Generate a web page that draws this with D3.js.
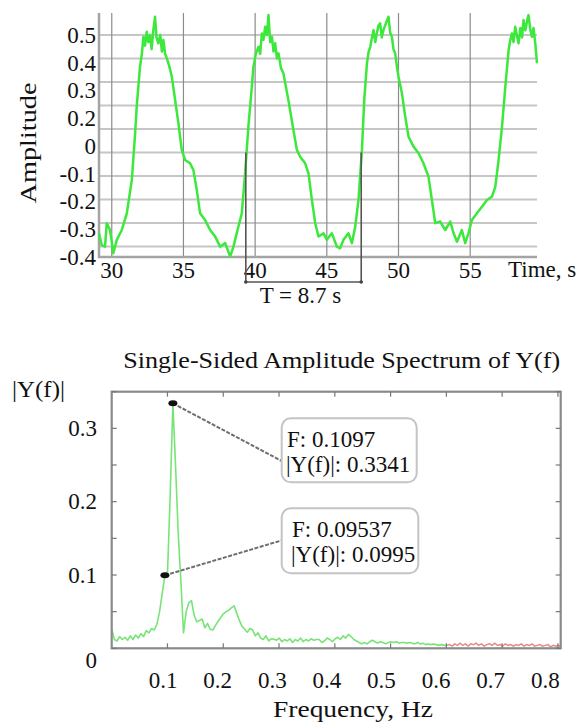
<!DOCTYPE html>
<html>
<head>
<meta charset="utf-8">
<script src="https://cdn.jsdelivr.net/npm/d3@7"></script>
<style>
body { margin: 0; background: #fff; }
svg { display: block; font-family: "Liberation Serif", "Times New Roman", serif; }
</style>
</head>
<body>
<div id="chart-area"></div>
<script>
// ---- time signal (top panel) ----
const sigTime = [29.11, 29.30, 29.53, 29.65, 29.88, 30.11, 30.35, 30.70, 31.05, 31.40,
	31.63, 31.74, 31.97, 32.10, 32.21, 32.32, 32.44, 32.55, 32.67, 32.78,
	32.90, 33.02, 33.12, 33.25, 33.38, 33.50, 33.60, 33.72, 33.84, 34.00,
	34.19, 34.42, 34.65, 34.88, 35.12, 35.46, 35.69, 35.93, 36.16, 36.51,
	36.86, 37.21, 37.56, 37.91, 38.26, 38.49, 38.83, 39.07, 39.30, 39.53,
	39.77, 39.88, 40.05, 40.23, 40.35, 40.47, 40.58, 40.70, 40.82, 40.93,
	41.05, 41.17, 41.28, 41.40, 41.52, 41.63, 41.80, 41.97, 42.32, 42.67,
	42.91, 43.14, 43.49, 43.72, 43.96, 44.19, 44.42, 44.77, 45.00, 45.35,
	45.70, 45.93, 46.16, 46.51, 46.75, 46.98, 47.21, 47.45, 47.61, 47.80,
	47.92, 48.03, 48.15, 48.26, 48.38, 48.49, 48.60, 48.72, 48.83, 48.95,
	49.12, 49.30, 49.42, 49.54, 49.65, 49.77, 49.90, 50.00, 50.24, 50.47,
	50.70, 51.05, 51.40, 51.74, 52.09, 52.33, 52.56, 52.91, 53.26, 53.61,
	53.84, 54.08, 54.42, 54.65, 54.88, 55.12, 55.47, 55.82, 56.17, 56.52,
	56.75, 56.98, 57.22, 57.45, 57.68, 57.80, 57.91, 58.02, 58.14, 58.25,
	58.37, 58.50, 58.62, 58.72, 58.85, 59.00, 59.07, 59.20, 59.31, 59.42,
	59.54, 59.66]
const sigAmp = [-0.344, -0.394, -0.401, -0.301, -0.330, -0.429, -0.372, -0.330, -0.259, -0.117,
	0.082, 0.195, 0.365, 0.42, 0.493, 0.455, 0.514, 0.47, 0.50, 0.44,
	0.521, 0.578, 0.49, 0.465, 0.50, 0.43, 0.479, 0.42, 0.401, 0.37,
	0.323, 0.223, 0.124, 0.011, -0.032, -0.046, -0.074, -0.160, -0.259, -0.287,
	-0.330, -0.358, -0.401, -0.386, -0.443, -0.401, -0.316, -0.259, -0.089, 0.110,
	0.280, 0.365, 0.42, 0.450, 0.42, 0.507, 0.48, 0.535, 0.50, 0.585,
	0.47, 0.493, 0.43, 0.465, 0.40, 0.422, 0.36, 0.337, 0.223, 0.096,
	0.011, -0.018, -0.046, -0.089, -0.202, -0.301, -0.358, -0.344, -0.372, -0.344,
	-0.401, -0.408, -0.372, -0.344, -0.386, -0.316, -0.202, 0.011, 0.223, 0.380,
	0.43, 0.450, 0.49, 0.521, 0.47, 0.507, 0.54, 0.550, 0.49, 0.521,
	0.55, 0.578, 0.51, 0.493, 0.44, 0.422, 0.36, 0.323, 0.252, 0.152,
	0.067, 0.025, -0.003, -0.046, -0.103, -0.202, -0.301, -0.294, -0.330, -0.294,
	-0.344, -0.380, -0.330, -0.386, -0.344, -0.287, -0.259, -0.231, -0.202, -0.188,
	-0.146, -0.032, 0.110, 0.280, 0.436, 0.48, 0.507, 0.47, 0.535, 0.50,
	0.465, 0.53, 0.49, 0.564, 0.52, 0.57, 0.585, 0.52, 0.493, 0.53,
	0.465, 0.380]
const timeTicks = [30, 35, 40, 45, 50, 55]
const ampGrid = [0.5, 0.4, 0.3, 0.2, 0.1, 0, -0.1, -0.2, -0.3, -0.4]
// the labels printed on the reference do not line up with the grid
const ampTickLabels = ["0.5", "0.4", "0.3", "0.2", "0", "-0.1", "-0.2", "-0.3", "-0.4"]
const periodMarks = [39.35, 47.40]
const periodLabel = "T = 8.7 s"

// ---- spectrum (bottom panel) ----
const specStep = 0.004769
const specAmp = [0.026, 0.012, 0.010, 0.016, 0.012, 0.015, 0.011, 0.017, 0.012, 0.018,
	0.014, 0.020, 0.016, 0.024, 0.021, 0.027, 0.025, 0.033, 0.050, 0.075,
	0.0995, 0.105, 0.21, 0.3341, 0.25, 0.157, 0.092, 0.021, 0.050, 0.062,
	0.065, 0.045, 0.036, 0.038, 0.040, 0.028, 0.034, 0.026, 0.025, 0.031,
	0.037, 0.042, 0.047, 0.050, 0.052, 0.055, 0.058, 0.048, 0.038, 0.030,
	0.026, 0.022, 0.027, 0.025, 0.017, 0.021, 0.014, 0.012, 0.017, 0.010,
	0.013, 0.0125, 0.011, 0.014, 0.009, 0.012, 0.010, 0.013, 0.008, 0.012,
	0.010, 0.014, 0.009, 0.012, 0.010, 0.013, 0.011, 0.012, 0.012, 0.008,
	0.010, 0.014, 0.012, 0.009, 0.013, 0.015, 0.012, 0.017, 0.014, 0.019,
	0.016, 0.012, 0.010, 0.008, 0.006, 0.008, 0.006, 0.009, 0.011, 0.009,
	0.007, 0.009, 0.008, 0.006, 0.008, 0.009, 0.008, 0.009, 0.007, 0.008,
	0.008, 0.007, 0.008, 0.007, 0.006, 0.008, 0.006, 0.007, 0.005, 0.006,
	0.005, 0.006, 0.005, 0.004, 0.005, 0.004, 0.004, 0.005, 0.003, 0.006,
	0.004, 0.007, 0.004, 0.006, 0.003, 0.006, 0.005, 0.007, 0.004, 0.006,
	0.003, 0.005, 0.006, 0.004, 0.007, 0.004, 0.005, 0.003, 0.006, 0.004,
	0.005, 0.003, 0.005, 0.004, 0.006, 0.003, 0.005, 0.004, 0.006, 0.003,
	0.004, 0.005, 0.003, 0.004, 0.005, 0.002, 0.004, 0.003, 0.004, 0.002]
const redFrom = 0.60
const freqTicks = [0.1, 0.2, 0.3, 0.4, 0.5, 0.6, 0.7, 0.8]
const specTicks = [0, 0.05, 0.1, 0.15, 0.2, 0.25, 0.3, 0.35]
const specTickLabels = [0, 0.1, 0.2, 0.3]
const tipFreq = [0.1097, 0.09537]
const tipAmp = [0.3341, 0.0995]

const WIDTH = 588
const HEIGHT = 723
const TOP = { LEFT: 99, RIGHT: 537, TOP: 13, BOTTOM: 257 }
const BOT = { LEFT: 111.7, RIGHT: 560.7, TOP: 391.7, BOTTOM: 648.3 }
const FONT = 23

const svg = d3.select("#chart-area").append("svg")
	.attr("width", WIDTH)
	.attr("height", HEIGHT)

// =============== top panel ===============
const x1 = d3.scaleLinear().domain([29.11, 59.66]).range([TOP.LEFT, TOP.RIGHT])
const y1 = d3.scaleLinear().domain([-0.445, 0.594]).range([TOP.BOTTOM, TOP.TOP])
const yLab = d3.scalePoint().domain(ampTickLabels).range([35, TOP.BOTTOM])

const topG = svg.append("g")

// horizontal grid
topG.selectAll(".hgrid").data(ampGrid).enter().append("line")
	.attr("x1", TOP.LEFT).attr("x2", TOP.RIGHT)
	.attr("y1", d => y1(d)).attr("y2", d => y1(d))
	.attr("stroke", "#c6c6c6").attr("stroke-width", 2)

// vertical grid
topG.selectAll(".vgrid").data(timeTicks).enter().append("line")
	.attr("x1", d => x1(d)).attr("x2", d => x1(d))
	.attr("y1", TOP.TOP).attr("y2", TOP.BOTTOM)
	.attr("stroke", "#8c8c8c").attr("stroke-width", 1.2)

// axis lines
topG.append("path")
	.attr("d", `M${TOP.LEFT},${TOP.TOP}V${TOP.BOTTOM}H${TOP.RIGHT}`)
	.attr("fill", "none").attr("stroke", "#a4a4a4").attr("stroke-width", 2.5)

// signal
const sig = sigTime.map((t, i) => ({ t: t, a: sigAmp[i] }))
topG.append("path")
	.datum(sig)
	.attr("fill", "none")
	.attr("stroke", "#3ce83c")
	.attr("stroke-width", 2.5)
	.attr("stroke-linejoin", "round")
	.attr("d", d3.line().x(d => x1(d.t)).y(d => y1(d.a)))

// Y labels
topG.selectAll(".ylab").data(ampTickLabels).enter().append("text")
	.attr("x", TOP.LEFT - 3)
	.attr("y", d => yLab(d))
	.attr("dy", "0.34em")
	.attr("text-anchor", "end")
	.attr("font-size", FONT)
	.attr("fill", "#111")
	.text(d => d)

// X labels
topG.selectAll(".xlab").data(timeTicks).enter().append("text")
	.attr("x", d => x1(d))
	.attr("y", 278)
	.attr("text-anchor", "middle")
	.attr("font-size", FONT)
	.attr("fill", "#111")
	.text(d => d)

topG.append("text")
	.attr("x", 508)
	.attr("y", 277)
	.attr("font-size", FONT)
	.attr("fill", "#111")
	.text("Time, s")

topG.append("text")
	.attr("transform", `translate(36, 143) rotate(-90)`)
	.attr("text-anchor", "middle")
	.attr("font-size", FONT)
	.attr("textLength", 121)
	.attr("lengthAdjust", "spacingAndGlyphs")
	.attr("fill", "#111")
	.text("Amplitude")

// period bracket
const bx0 = x1(periodMarks[0]), bx1 = x1(periodMarks[1]), by = 282
topG.append("path")
	.attr("d", `M${bx0},${y1(0)}V${by}H${bx1}V${y1(0)}`)
	.attr("fill", "none").attr("stroke", "#555").attr("stroke-width", 1.6)
topG.selectAll(".bdot").data(periodMarks).enter().append("circle")
	.attr("cx", d => x1(d)).attr("cy", by).attr("r", 1.8).attr("fill", "#444")
topG.append("text")
	.attr("x", (bx0 + bx1) / 2 - 3)
	.attr("y", 303)
	.attr("text-anchor", "middle")
	.attr("font-size", FONT)
	.attr("fill", "#111")
	.text(periodLabel)

// =============== bottom panel ===============
const x2 = d3.scaleLinear().domain([0, 0.805]).range([BOT.LEFT, BOT.RIGHT])
const y2 = d3.scaleLinear().domain([0, 0.35]).range([BOT.BOTTOM, BOT.TOP])
// tick labels in the reference sit slightly left of their ticks
const x2Lab = x2.copy().range([108.5, 548])

const botG = svg.append("g")

botG.append("text")
	.attr("x", 341.7)
	.attr("y", 368)
	.attr("text-anchor", "middle")
	.attr("font-size", FONT)
	.attr("textLength", 437)
	.attr("lengthAdjust", "spacingAndGlyphs")
	.attr("fill", "#111")
	.text("Single-Sided Amplitude Spectrum of Y(f)")

botG.append("text")
	.attr("x", 12)
	.attr("y", 397)
	.attr("font-size", FONT)
	.attr("textLength", 53)
	.attr("lengthAdjust", "spacingAndGlyphs")
	.attr("fill", "#111")
	.text("|Y(f)|")

// spectrum line, green then red
const spec = specAmp.map((a, i) => ({ f: i * specStep, a: a }))
const specLine = d3.line().x(d => x2(d.f)).y(d => y2(d.a))
botG.append("path")
	.datum(spec.filter(d => d.f <= redFrom + specStep))
	.attr("fill", "none").attr("stroke", "#78e478").attr("stroke-width", 1.6)
	.attr("stroke-linejoin", "round")
	.attr("d", specLine)
botG.append("path")
	.datum(spec.filter(d => d.f >= redFrom))
	.attr("fill", "none").attr("stroke", "#e48888").attr("stroke-width", 1.5)
	.attr("d", specLine)

// frame
botG.append("rect")
	.attr("x", BOT.LEFT).attr("y", BOT.TOP)
	.attr("width", BOT.RIGHT - BOT.LEFT).attr("height", BOT.BOTTOM - BOT.TOP)
	.attr("fill", "none").attr("stroke", "#8a8a8a").attr("stroke-width", 2.2)

// inward ticks on all sides
const tickLen = 5
botG.selectAll(".xt").data(freqTicks.flatMap(f => [[f, BOT.BOTTOM, -1], [f, BOT.TOP, 1]]))
	.enter().append("line")
	.attr("x1", d => x2(d[0])).attr("x2", d => x2(d[0]))
	.attr("y1", d => d[1]).attr("y2", d => d[1] + d[2] * tickLen)
	.attr("stroke", "#777").attr("stroke-width", 1.2)
botG.selectAll(".yt").data(specTicks.flatMap(v => [[v, BOT.LEFT, 1], [v, BOT.RIGHT, -1]]))
	.enter().append("line")
	.attr("y1", d => y2(d[0])).attr("y2", d => y2(d[0]))
	.attr("x1", d => d[1]).attr("x2", d => d[1] + d[2] * tickLen)
	.attr("stroke", "#777").attr("stroke-width", 1.2)

// tick labels
botG.selectAll(".fx").data(freqTicks).enter().append("text")
	.attr("x", d => x2Lab(d))
	.attr("y", 688)
	.attr("text-anchor", "middle")
	.attr("font-size", FONT)
	.attr("fill", "#111")
	.text(d => d)
botG.selectAll(".fy").data(specTickLabels).enter().append("text")
	.attr("x", 97)
	.attr("y", d => y2(d))
	.attr("dy", d => d === 0 ? "0.85em" : "0.34em")
	.attr("text-anchor", "end")
	.attr("font-size", FONT)
	.attr("fill", "#111")
	.text(d => d)

botG.append("text")
	.attr("x", 353)
	.attr("y", 717)
	.attr("text-anchor", "middle")
	.attr("font-size", FONT)
	.attr("textLength", 160)
	.attr("lengthAdjust", "spacingAndGlyphs")
	.attr("fill", "#111")
	.text("Frequency,  Hz")

// data tips
const tipBoxes = [
	{ x: 281.7, y: 418.3, w: 135, h: 64, lx: 283, ly: 461.7, tx: 287 },
	{ x: 281.7, y: 508.3, w: 136.6, h: 65, lx: 283, ly: 540, tx: 292 }
]
tipFreq.forEach((f, i) => {
	const b = tipBoxes[i]
	const px = x2(f), py = y2(tipAmp[i])
	botG.append("line")
		.attr("x1", px).attr("y1", py).attr("x2", b.lx).attr("y2", b.ly)
		.attr("stroke", "#6e6e6e").attr("stroke-width", 2)
		.attr("stroke-dasharray", "4,1.5")
	botG.append("ellipse")
		.attr("cx", px).attr("cy", py).attr("rx", 4.5).attr("ry", 3)
		.attr("fill", "#111")
	botG.append("rect")
		.attr("x", b.x).attr("y", b.y).attr("width", b.w).attr("height", b.h)
		.attr("rx", 9)
		.attr("fill", "#fff").attr("stroke", "#c4c4c4").attr("stroke-width", 2)
	botG.append("text")
		.attr("x", b.tx).attr("y", b.y + 29)
		.attr("font-size", FONT).attr("fill", "#111")
		.text("F: " + f)
	botG.append("text")
		.attr("x", b.tx - 1).attr("y", b.y + 54)
		.attr("font-size", FONT).attr("fill", "#111")
		.text("|Y(f)|: " + tipAmp[i])
})
</script>
</body>
</html>
